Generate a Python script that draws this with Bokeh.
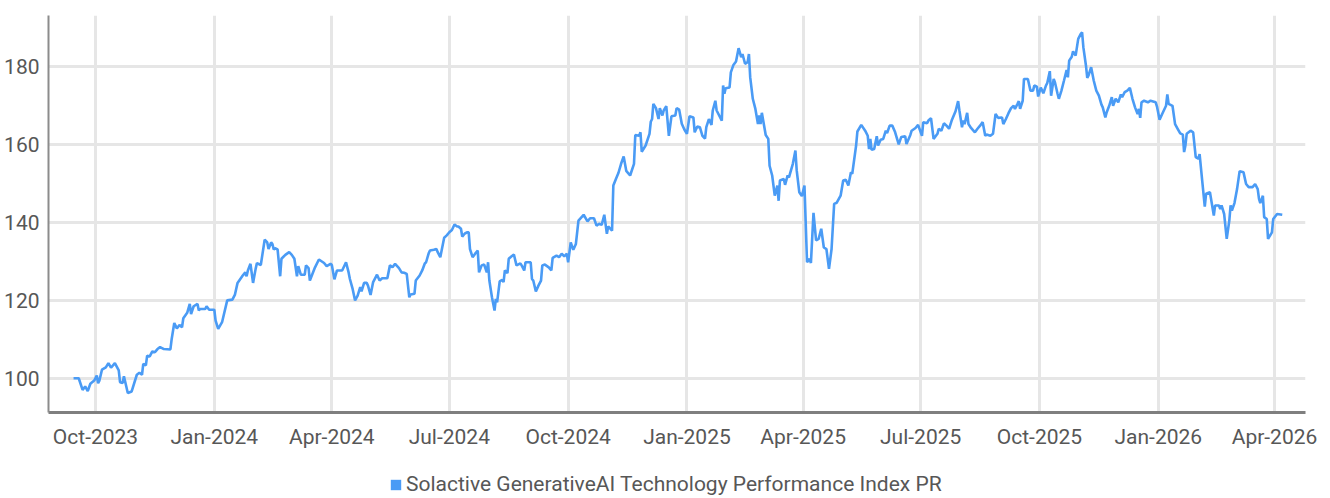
import pandas as pd
from bokeh.plotting import figure
from bokeh.layouts import column
from bokeh.models import (Range1d, MonthsTicker, DatetimeTickFormatter, FixedTicker,
                          Legend, LegendItem, ColumnDataSource)
from bokeh.embed import file_html
from bokeh.resources import INLINE

series_name = "Solactive GenerativeAI Technology Performance Index PR"
base_date = "2023-10-01"

day_offsets = [
    -17, -13, -10, -8, -6, -4, -1, 1, 2, 3,
    5, 8, 10, 12, 15, 18, 19, 21, 22, 25,
    28, 32, 34, 36, 37, 39, 40, 42, 44, 46,
    48, 50, 53, 58,
    59, 61, 63, 65, 67, 68, 71, 73, 74, 76,
    79, 80, 81, 85, 86, 88, 92, 93, 95, 98,
    102, 106,
    108, 110, 114, 116, 117, 118, 120, 122, 124, 125,
    128, 131, 133, 134, 136, 137, 138, 139, 141, 143,
    144, 147, 150, 152, 154, 156, 157, 159, 162, 163,
    165, 166, 170, 173, 177,
    179, 182, 183, 185, 187, 191, 194, 196, 197, 199,
    201, 203, 205, 206, 208, 210, 211, 213, 215, 218,
    220, 222, 226, 228, 230, 232, 235, 237, 239, 241,
    243, 244, 247, 248, 251, 253, 255, 256, 258, 259,
    262, 264, 265, 267, 270, 272, 274, 276, 278, 280,
    281, 283, 284, 286, 288, 289, 290, 292, 294, 296,
    297, 299, 301, 303, 304, 305,
    307, 309, 310, 311, 313, 315, 316, 317, 319, 320,
    322, 324, 326, 329, 330, 332, 333, 337, 338, 339,
    341, 343, 345, 346, 348, 351, 353, 354, 357, 359,
    361, 363, 365, 366, 368, 370, 372,
    374, 378, 381, 383, 386, 388, 390, 392, 394, 396,
    397, 400, 401, 403, 405, 407, 409, 411, 414, 417,
    418, 421, 422, 423, 426, 429,
    430, 431, 432, 434, 436, 437, 439, 440, 442, 444,
    446, 449, 450, 452, 454, 456, 458, 460, 463, 464,
    466, 468, 470, 472, 473, 475, 477, 478, 480, 481,
    485, 486,
    487, 488, 491, 492, 494, 496, 498, 500, 501, 503,
    505, 506, 507, 509, 511, 513, 514, 515, 516, 519,
    521, 522, 524, 526, 528, 529, 530, 533, 534, 536,
    537, 540, 542, 543, 545, 547, 549, 551,
    553, 554, 556, 558, 560, 562, 564, 566, 568, 570,
    572, 574, 577, 579, 581, 583, 585, 586, 589, 590,
    593, 596, 598, 599, 600, 601, 603, 605, 606, 608,
    610,
    612, 613, 615, 617, 619, 622, 624, 627, 628, 631,
    632, 635, 637, 640, 641, 644, 645, 647, 649, 652,
    653, 655, 657, 659, 661, 663, 666, 668, 669, 671,
    672, 673,
    675, 676, 678, 681, 683, 685, 687, 689, 690, 693,
    695, 697, 699, 702, 703, 705, 707, 709, 711, 712,
    714, 715, 716, 718, 719, 722, 724, 726, 727, 729,
    730,
    732, 734, 736, 737, 739, 740, 742, 743, 745, 746,
    748, 750, 752, 753, 754, 756, 757, 759, 761, 763,
    764, 765, 767, 768, 769, 771,
    773, 775, 777, 779, 780, 782, 783, 785, 787, 788,
    790, 792, 794, 795, 797, 799, 801, 803, 805, 807,
    808, 809, 810, 812, 815, 817, 821, 822, 824, 826,
    829, 830, 831,
    834, 836, 838, 840, 842, 843, 844, 845, 848, 850,
    852, 854, 855, 857, 859, 860, 863, 866, 867, 870,
    871, 872, 874, 876, 878, 879, 880,
    882, 884, 886, 889, 891, 893, 896, 898, 900, 901,
    902, 904, 905, 907, 908, 911, 912, 915, 919,
]

index_values = [
    100.0, 100.0, 97.0, 97.9, 96.7, 98.6, 99.4, 100.7, 98.7, 99.4,
    102.2, 102.8, 103.9, 102.7, 103.9, 102.0, 99.0, 98.8, 100.5, 96.2,
    96.6, 100.9, 101.4, 100.9, 103.7, 103.3, 105.8, 105.6, 106.9, 106.7,
    107.5, 108.0, 107.5, 107.4,
    110.1, 114.2, 112.8, 113.7, 113.1, 115.4, 116.8, 119.1, 116.5, 118.5,
    119.1, 117.4, 117.8, 117.8, 118.5, 117.6, 117.6, 114.8, 112.7, 114.4,
    120.0, 120.2,
    121.5, 124.5, 126.4, 127.2, 126.2, 127.7, 129.4, 124.5, 128.1, 129.6,
    129.1, 135.6, 134.9, 133.2, 134.9, 134.5, 133.1, 133.4, 133.1, 126.2,
    130.7, 131.7, 132.4, 131.7, 130.7, 126.2, 128.8, 126.6, 126.6, 129.0,
    128.3, 125.1, 128.5, 130.5, 129.6,
    128.8, 129.4, 129.1, 125.4, 127.7, 127.7, 129.8, 127.2, 125.5, 123.1,
    120.0, 121.2, 123.4, 122.3, 124.5, 124.5, 123.8, 121.4, 124.7, 126.6,
    125.1, 125.7, 125.7, 129.0, 128.5, 129.4, 128.3, 127.2, 127.1, 126.8,
    120.8, 121.5, 121.7, 125.1, 126.4, 127.7, 129.5, 129.8, 132.1, 132.8,
    133.0, 133.2, 132.4, 131.1, 136.1, 136.7, 137.5, 138.1, 139.5, 139.0,
    139.0, 138.4, 136.4, 137.2, 137.5, 137.5, 133.2, 131.1, 132.0, 132.8,
    127.2, 129.0, 129.2, 127.2, 129.8, 125.1,
    120.8, 117.4, 120.4, 119.5, 124.9, 125.3, 124.7, 127.7, 127.0, 130.7,
    131.3, 131.8, 129.0, 129.5, 129.0, 127.7, 129.8, 129.8, 125.5, 125.1,
    122.3, 123.8, 125.1, 129.0, 129.2, 128.5, 127.7, 130.9, 131.5, 131.1,
    132.0, 131.3, 132.0, 129.8, 134.9, 133.0, 134.5,
    140.5, 142.0, 140.3, 141.1, 141.1, 139.2, 139.7, 139.4, 142.0, 137.1,
    139.0, 137.9, 149.5, 151.2, 152.8, 155.1, 157.0, 153.3, 152.1, 155.1,
    162.5, 162.3, 163.2, 158.2, 159.8, 162.8,
    165.9, 166.6, 170.5, 169.4, 166.6, 169.4, 167.5, 168.8, 169.9, 162.3,
    167.3, 167.5, 169.4, 169.0, 165.4, 163.9, 162.8, 167.3, 167.0, 163.2,
    164.7, 164.5, 162.3, 161.6, 164.5, 166.6, 165.1, 168.8, 171.3, 168.8,
    166.2, 175.2,
    173.1, 174.5, 174.7, 178.6, 180.5, 181.4, 184.8, 182.5, 183.3, 180.8,
    181.2, 183.3, 177.3, 171.8, 169.2, 165.3, 167.5, 165.3, 168.2, 162.5,
    161.5, 154.6, 152.1, 146.9, 149.5, 145.6, 150.8, 151.2, 149.7, 152.1,
    151.6, 155.1, 158.5, 153.4, 147.8, 146.8, 149.5, 129.8,
    130.7, 129.6, 142.5, 135.4, 135.8, 138.4, 133.6, 133.2, 128.1, 133.2,
    144.8, 145.1, 146.9, 150.8, 151.0, 149.5, 152.9, 152.5, 159.8, 163.4,
    165.1, 163.6, 162.3, 158.9, 161.5, 158.7, 158.9, 162.2, 159.8, 161.3,
    161.5,
    163.6, 163.0, 164.9, 164.9, 163.4, 160.1, 162.0, 162.2, 160.2, 162.5,
    163.6, 164.3, 165.1, 162.3, 165.8, 165.5, 166.2, 166.8, 161.5, 162.8,
    164.1, 163.6, 165.5, 164.9, 164.1, 166.2, 168.6, 171.2, 168.8, 164.5,
    166.2, 165.3,
    168.2, 165.3, 164.3, 163.2, 164.1, 164.9, 165.8, 162.3, 162.6, 162.3,
    162.8, 167.9, 166.9, 167.0, 165.3, 166.6, 168.1, 169.4, 170.0, 169.2,
    170.5, 171.2, 169.2, 171.3, 176.9, 176.9, 173.9, 173.9, 175.2, 174.9,
    172.4,
    174.7, 173.2, 175.2, 175.8, 178.9, 172.6, 176.9, 176.0, 173.1, 171.8,
    173.9, 176.5, 179.2, 177.3, 181.6, 182.6, 184.0, 182.9, 187.2, 188.5,
    188.9, 185.0, 180.3, 177.2, 177.8, 179.9,
    176.5, 173.9, 172.6, 170.3, 169.6, 167.0, 168.3, 170.0, 172.2, 170.0,
    171.8, 170.9, 172.9, 172.2, 173.5, 173.9, 174.6, 171.8, 169.6, 167.9,
    169.2, 166.9, 170.9, 171.3, 170.9, 171.3, 170.9, 169.8, 166.4, 167.9,
    170.0, 172.9, 170.5,
    170.0, 165.3, 164.1, 162.9, 162.6, 158.1, 159.8, 162.8, 163.6, 163.2,
    156.8, 156.4, 157.6, 150.8, 144.1, 147.4, 147.8, 141.8, 144.4, 144.4,
    143.5, 144.4, 142.2, 135.8, 140.5, 144.4, 143.1,
    145.0, 148.6, 153.2, 152.9, 149.9, 149.1, 149.1, 149.9, 148.6, 146.1,
    145.0, 146.9, 141.4, 140.9, 135.8, 137.5, 140.9, 142.2, 142.0,
]

y_ticks = [100, 120, 140, 160, 180]
x_tick_months = [0, 3, 6, 9]          # Jan, Apr, Jul, Oct
x_tick_format = "%b-%Y"

assert len(day_offsets) == len(index_values)

LINE_BLUE = "#4a9bf5"
GRID = "#e6e6e6"
LABEL = "#575757"

base = pd.Timestamp(base_date)
dates = base + pd.to_timedelta(day_offsets, unit="D")
src = ColumnDataSource(dict(date=dates, value=index_values))

# ---------------- main chart ----------------
p = figure(width=1328, height=455, x_axis_type="datetime",
           output_backend="svg", toolbar_location=None,
           x_range=Range1d(base - pd.Timedelta(days=36.4), base + pd.Timedelta(days=937)),
           y_range=Range1d(91.2, 193.2),
           min_border_left=48, min_border_right=23, min_border_top=15, min_border_bottom=43)
p.outline_line_color = None
p.background_fill_color = "white"
p.border_fill_color = "white"

p.line("date", "value", source=src, line_color=LINE_BLUE, line_width=2.6)

xt = MonthsTicker(months=x_tick_months)
p.xaxis.ticker = xt
p.xgrid.ticker = xt
p.xaxis.formatter = DatetimeTickFormatter(days=x_tick_format, months=x_tick_format,
                                          years=x_tick_format)
p.yaxis.ticker = FixedTicker(ticks=y_ticks)

for g in (p.xgrid, p.ygrid):
    g.grid_line_color = GRID
    g.grid_line_width = 3

for ax in (p.xaxis, p.yaxis):
    ax.major_tick_line_color = None
    ax.minor_tick_line_color = None
    ax.major_tick_out = 0
    ax.major_tick_in = 0
    ax.major_label_text_font = "Roboto"
    ax.major_label_text_color = LABEL

p.xaxis.major_label_text_font_size = "21px"
p.yaxis.major_label_text_font_size = "21px"
p.xaxis.major_label_standoff = 12
p.yaxis.major_label_standoff = 9
p.xaxis.axis_line_color = "#7f7f7f"
p.xaxis.axis_line_width = 3
p.yaxis.axis_line_color = "#8c8c8c"
p.yaxis.axis_line_width = 2

# ---------------- legend strip ----------------
lg = figure(width=1328, height=41, output_backend="svg", toolbar_location=None,
            x_axis_location=None, y_axis_location=None,
            x_range=Range1d(0, 1), y_range=Range1d(0, 1),
            min_border=0)
lg.outline_line_color = None
lg.grid.visible = False
# swatch renderer for the legend icon (its own box lies outside this strip's view)
icon = lg.quad(left=[2], right=[3], top=[3], bottom=[2],
               fill_color=LINE_BLUE, line_color=None)
legend = Legend(items=[LegendItem(label=series_name, renderers=[icon])],
                location=(341, 0), orientation="horizontal",
                glyph_width=13, glyph_height=13, label_standoff=4, label_height=24,
                padding=0, margin=0, border_line_color=None, background_fill_alpha=0,
                label_text_font="Roboto", label_text_font_size="21px",
                label_text_color=LABEL)
lg.add_layout(legend, "center")

layout = column(p, lg, spacing=0)
open("out.html", "w").write(file_html(layout, INLINE))
